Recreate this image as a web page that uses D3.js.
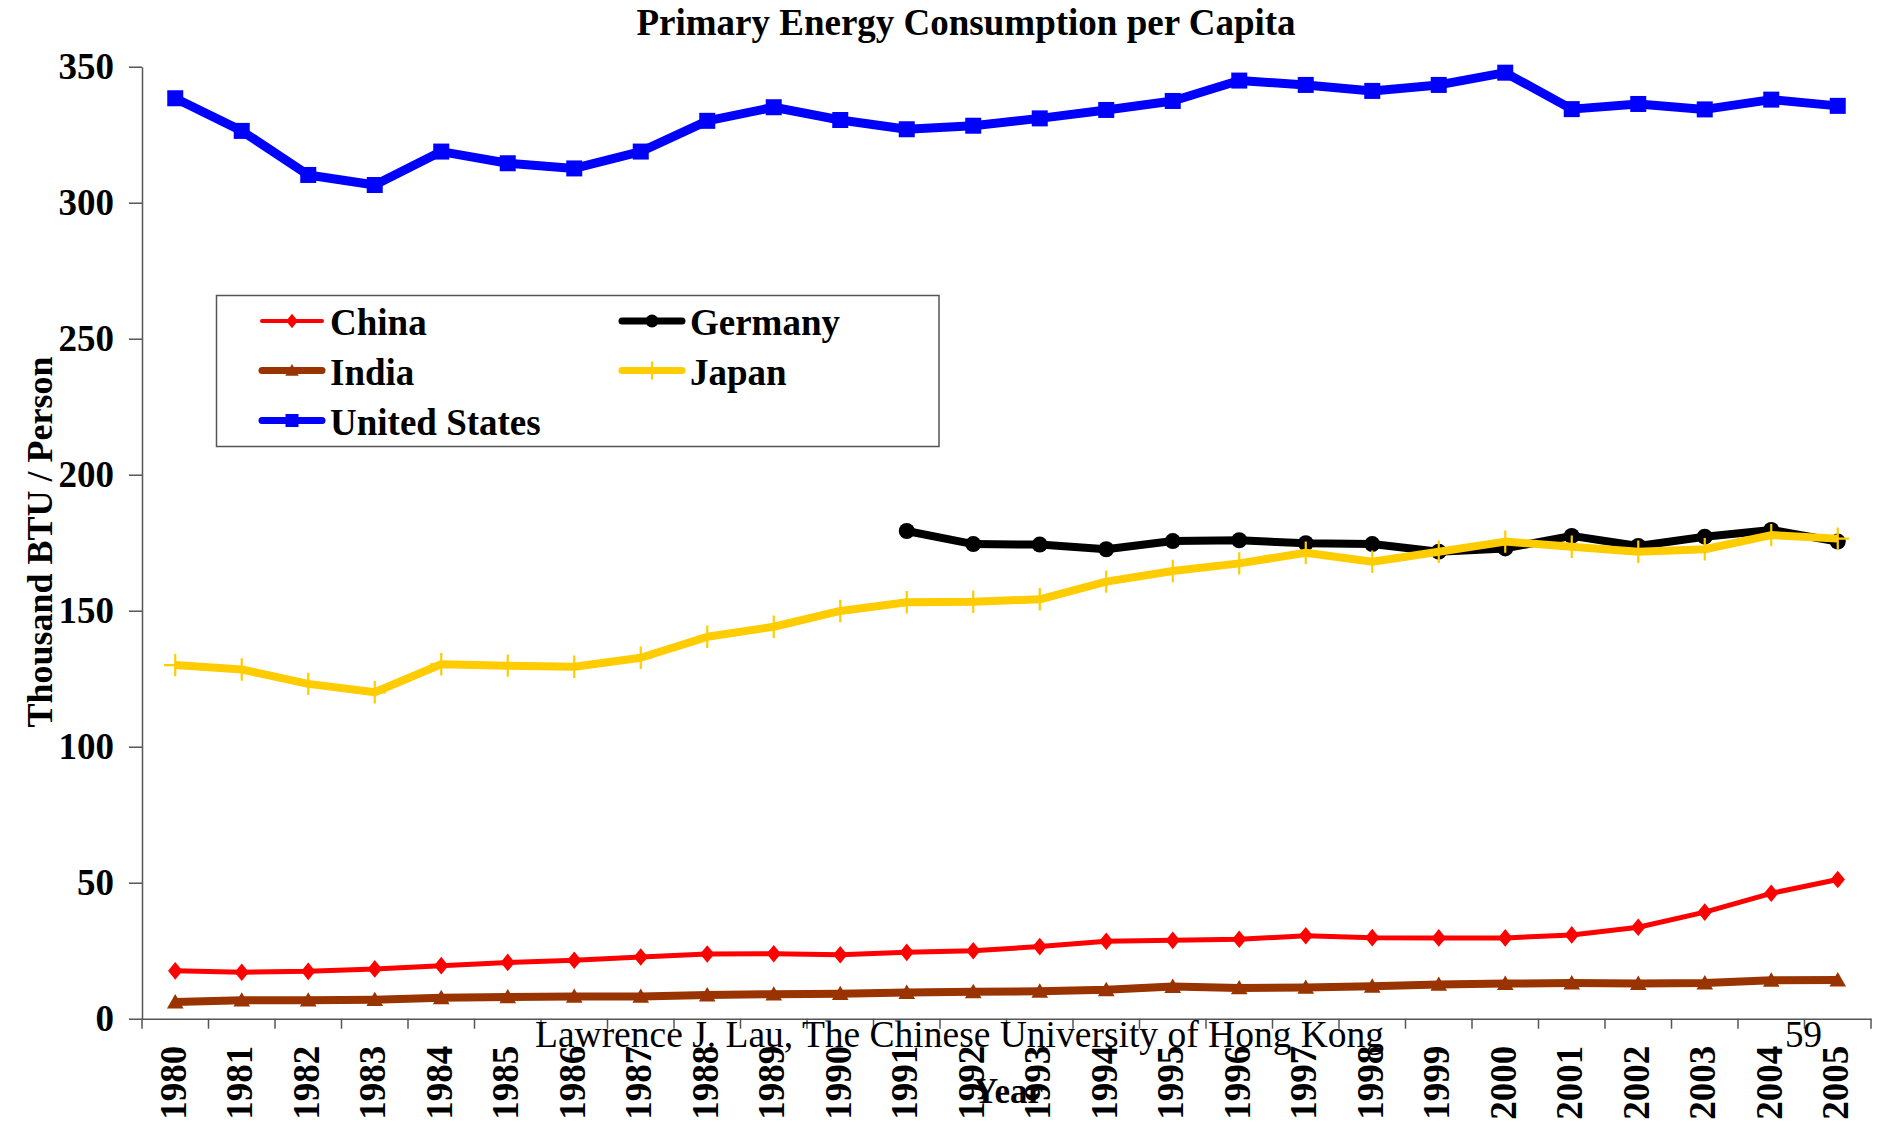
<!DOCTYPE html>
<html>
<head>
<meta charset="utf-8">
<script src="https://cdn.jsdelivr.net/npm/d3@7"></script>
<style>
  body { margin: 0; background: #fff; }
  svg text { font-family: "Liberation Serif", "Times New Roman", serif; }
</style>
</head>
<body>
<svg id="chart" width="1878" height="1122"></svg>
<script>
// data
var years = [1980, 1981, 1982, 1983, 1984, 1985, 1986, 1987, 1988, 1989, 1990, 1991, 1992,
    1993, 1994, 1995, 1996, 1997, 1998, 1999, 2000, 2001, 2002, 2003, 2004, 2005];

var china = [17.6, 17.1, 17.4, 18.3, 19.5, 20.7, 21.5, 22.7, 23.8, 23.9, 23.5, 24.4, 25.0,
    26.5, 28.5, 28.8, 29.2, 30.5, 29.8, 29.7, 29.7, 30.8, 33.6, 39.2, 46.1, 51.2];

var germany = [null, null, null, null, null, null, null, null, null, null, null, 179.3, 174.5,
    174.3, 172.6, 175.6, 175.9, 174.8, 174.5, 171.7, 172.9, 177.5, 173.8, 177.2, 179.7, 175.4];

var india = [6.1, 6.8, 6.8, 7.0, 7.7, 8.0, 8.2, 8.2, 8.7, 9.0, 9.2, 9.6, 9.9,
    10.1, 10.6, 11.8, 11.3, 11.5, 11.9, 12.6, 12.9, 13.1, 12.9, 13.1, 14.1, 14.2];

var japan = [130.0, 128.4, 123.1, 120.0, 130.3, 129.8, 129.4, 132.7, 140.4, 144.1, 149.9, 153.1, 153.3,
    154.2, 160.7, 164.6, 167.4, 171.3, 168.0, 171.7, 175.4, 173.5, 171.7, 172.6, 177.8, 176.5];

var usa = [338.4, 326.4, 310.2, 306.5, 318.8, 314.5, 312.6, 318.8, 330.1, 335.1, 330.4, 327.0, 328.3,
    331.0, 334.1, 337.4, 344.9, 343.3, 341.1, 343.3, 347.8, 334.4, 336.3, 334.3, 337.9, 335.6];

var yTicks = [0, 50, 100, 150, 200, 250, 300, 350];

var series = [
    { name: "China", values: china, color: "#ff0000", width: 5, marker: "diamond" },
    { name: "Germany", values: germany, color: "#000000", width: 8, marker: "circle" },
    { name: "India", values: india, color: "#993300", width: 8, marker: "triangle" },
    { name: "Japan", values: japan, color: "#ffcc00", width: 8, marker: "plus" },
    { name: "United States", values: usa, color: "#0000ff", width: 9, marker: "square" }
];

var svg = d3.select("#chart"),
    plotLeft = 142, plotRight = 1871, plotTop = 66.7, plotBottom = 1018.7;

var x = d3.scaleBand().domain(years).range([plotLeft, plotRight]);
var y = d3.scaleLinear().domain([0, 350]).range([plotBottom, plotTop]);

var g = svg.append("g");

// y axis
var yAxis = g.append("g")
    .attr("transform", "translate(" + plotLeft + ",0)")
    .call(d3.axisLeft(y).tickValues(yTicks).tickSize(13).tickSizeOuter(0).tickPadding(15));
yAxis.selectAll("text")
    .attr("font-size", 37).attr("font-weight", "bold").attr("fill", "#000")
    .style("font-family", "'Liberation Serif', serif");

// x axis, ticks between categories
var xAxis = g.append("g")
    .attr("transform", "translate(0," + plotBottom + ")")
    .call(d3.axisBottom(x).tickSize(0).tickSizeOuter(0));
xAxis.selectAll(".tick text").remove();
xAxis.selectAll(".tick").append("line")
    .attr("x1", -x.bandwidth() / 2).attr("x2", -x.bandwidth() / 2)
    .attr("y1", 0).attr("y2", 10);
xAxis.append("line").attr("class", "endtick")
    .attr("x1", plotRight).attr("x2", plotRight).attr("y1", 0).attr("y2", 10);
xAxis.selectAll(".tick").append("text")
    .attr("transform", "rotate(-90)")
    .attr("x", -27)
    .attr("y", 0)
    .attr("dy", "0.28em")
    .attr("text-anchor", "end")
    .attr("font-size", 37)
    .attr("font-weight", "bold")
    .attr("fill", "#000")
    .style("font-family", "'Liberation Serif', serif")
    .text(function(d) { return d; });

svg.selectAll(".domain").attr("stroke", "#555").attr("stroke-width", 1.5);
svg.selectAll(".tick line, .endtick").attr("stroke", "#555").attr("stroke-width", 1.5);

// markers
function drawMarker(sel, type, color, cx, cy, s) {
    if (type == "diamond") {
        sel.append("path")
            .attr("d", "M" + cx + "," + (cy - s * 0.55) + "L" + (cx + s * 0.45) + "," + cy +
                "L" + cx + "," + (cy + s * 0.55) + "L" + (cx - s * 0.45) + "," + cy + "Z")
            .attr("fill", color);
    } else if (type == "circle") {
        sel.append("circle").attr("cx", cx).attr("cy", cy).attr("r", s / 2).attr("fill", color);
    } else if (type == "triangle") {
        sel.append("path")
            .attr("d", "M" + cx + "," + (cy - s * 0.5) + "L" + (cx + s * 0.52) + "," + (cy + s * 0.4) +
                "L" + (cx - s * 0.52) + "," + (cy + s * 0.4) + "Z")
            .attr("fill", color);
    } else if (type == "square") {
        sel.append("rect").attr("x", cx - s / 2).attr("y", cy - s / 2)
            .attr("width", s).attr("height", s).attr("fill", color);
    } else if (type == "plus") {
        sel.append("path")
            .attr("d", "M" + cx + "," + (cy - s * 0.7) + "V" + (cy + s * 0.7) +
                "M" + (cx - s * 0.7) + "," + cy + "H" + (cx + s * 0.7))
            .attr("stroke", color).attr("stroke-width", 2.2).attr("fill", "none");
    }
}

var line = d3.line()
    .defined(function(d) { return d.v != null; })
    .x(function(d) { return x(d.year) + x.bandwidth() / 2; })
    .y(function(d) { return y(d.v); });

series.forEach(function(s) {
    var pts = years.map(function(yr, i) { return { year: yr, v: s.values[i] }; });
    var sg = g.append("g");
    sg.append("path")
        .datum(pts)
        .attr("fill", "none")
        .attr("stroke", s.color)
        .attr("stroke-width", s.width)
        .attr("stroke-linejoin", "round")
        .attr("d", line);
    pts.filter(function(d) { return d.v != null; }).forEach(function(d) {
        drawMarker(sg, s.marker, s.color, x(d.year) + x.bandwidth() / 2, y(d.v), 16);
    });
});

// legend
var legend = svg.append("g");
legend.append("rect")
    .attr("x", 216.5).attr("y", 295.5).attr("width", 722.5).attr("height", 151)
    .attr("fill", "#fff").attr("stroke", "#555").attr("stroke-width", 1.5);

var legendPos = [[262, 321], [622, 321], [262, 370.5], [622, 370.5], [262, 420.5]];
series.forEach(function(s, i) {
    var lx = legendPos[i][0], ly = legendPos[i][1];
    legend.append("line")
        .attr("x1", lx).attr("x2", lx + 60).attr("y1", ly).attr("y2", ly)
        .attr("stroke", s.color).attr("stroke-width", s.width == 5 ? 4 : 7)
        .attr("stroke-linecap", "round");
    drawMarker(legend, s.marker, s.color, lx + 30, ly, 13);
    legend.append("text")
        .attr("x", lx + 68).attr("y", ly + 14)
        .attr("font-size", 37).attr("font-weight", "bold")
        .text(s.name);
});

// titles
svg.append("text")
    .attr("x", 966).attr("y", 35)
    .attr("text-anchor", "middle")
    .attr("font-size", 37).attr("font-weight", "bold")
    .text("Primary Energy Consumption per Capita");

svg.append("text")
    .attr("transform", "translate(52,542) rotate(-90)")
    .attr("text-anchor", "middle")
    .attr("font-size", 36).attr("font-weight", "bold")
    .text("Thousand BTU / Person");

svg.append("text")
    .attr("x", 535).attr("y", 1047)
    .attr("font-size", 37.5)
    .text("Lawrence J. Lau, The Chinese University of Hong Kong");

svg.append("text")
    .attr("x", 1785).attr("y", 1047)
    .attr("font-size", 37)
    .text("59");

svg.append("text")
    .attr("x", 1008).attr("y", 1103)
    .attr("text-anchor", "middle")
    .attr("font-size", 35).attr("font-weight", "bold")
    .text("Year");
</script>
</body>
</html>
